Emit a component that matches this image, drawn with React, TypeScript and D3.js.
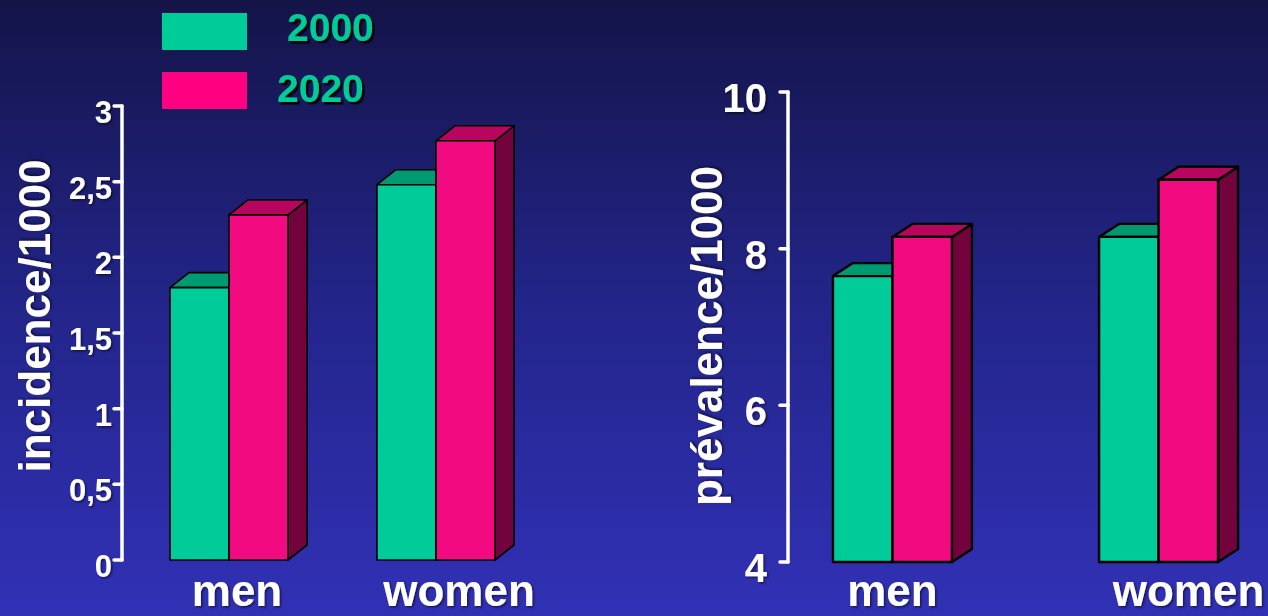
import React from "react";
import * as d3 from "d3";

// Categories and series
const categories = ["men", "women"];
const years = ["2000", "2020"];

// Incidence per 1000
const incidence2000 = [1.8, 2.48];
const incidence2020 = [2.28, 2.77];
const incidenceTicks = [0, 0.5, 1, 1.5, 2, 2.5, 3];

// Prevalence per 1000
const prevalence2000 = [7.65, 8.15];
const prevalence2020 = [8.15, 8.88];
const prevalenceTicks = [4, 6, 8, 10];

const W = 1268;
const H = 616;
const FONT = "'Liberation Sans', Arial, Helvetica, sans-serif";

const frLocale = d3.formatLocale({ decimal: ",", thousands: " ", grouping: [3], currency: ["", " €"] });
const fmtTick = frLocale.format("~g");

const seriesColors = [
  { front: "#00cc99", top: "#009a72", side: "#00704f", legend: "#00cc99" },
  { front: "#f20a80", top: "#b8065f", side: "#72033c", legend: "#ff0080" },
];
const legendTextColor = "#00cc99";

type Panel = {
  title: string;
  s2000: number[];
  s2020: number[];
  ticks: number[];
  domain: [number, number];
  axisX: number;
  yTop: number;
  yBottom: number;
  bandRange: [number, number];
  paddingInner: number;
  paddingOuter: number;
  depth: [number, number];
  stroke: number;
  tickFont: number;
  tickGap: number;
  tickDy: number;
  titleX: number;
  titleY: number;
  labelNudge: number[];
};

const panels: Panel[] = [
  {
    title: "incidence/1000",
    s2000: incidence2000,
    s2020: incidence2020,
    ticks: incidenceTicks,
    domain: [0, 3],
    axisX: 122,
    yTop: 106,
    yBottom: 560,
    bandRange: [122, 543],
    paddingInner: 0.43,
    paddingOuter: 0.232,
    depth: [19, 15],
    stroke: 1.6,
    tickFont: 31,
    tickGap: 10,
    tickDy: 17,
    titleX: 50,
    titleY: 316,
    labelNudge: [8, 23],
  },
  {
    title: "prévalence/1000",
    s2000: prevalence2000,
    s2020: prevalence2020,
    ticks: prevalenceTicks,
    domain: [4, 10],
    axisX: 788,
    yTop: 92,
    yBottom: 562,
    bandRange: [788, 1263],
    paddingInner: 0.553,
    paddingOuter: 0.169,
    depth: [20, 13],
    stroke: 2.4,
    tickFont: 40,
    tickGap: 21,
    tickDy: 20,
    titleX: 722,
    titleY: 336,
    labelNudge: [0, 30],
  },
];

function Bar3D({ x, w, yTopPx, base, dx, dy, c, sw }: any) {
  const front = `M${x},${yTopPx}H${x + w}V${base}H${x}Z`;
  const top = `M${x},${yTopPx}L${x + dx},${yTopPx - dy}H${x + w + dx}L${x + w},${yTopPx}Z`;
  const side = `M${x + w},${yTopPx}L${x + w + dx},${yTopPx - dy}V${base - dy}L${x + w},${base}Z`;
  return (
    <g stroke="#000" strokeWidth={sw} strokeLinejoin="round">
      <path d={side} fill={c.side} />
      <path d={top} fill={c.top} />
      <path d={front} fill={c.front} />
    </g>
  );
}

function PanelChart({ p }: { p: Panel }) {
  const y = d3.scaleLinear().domain(p.domain).range([p.yBottom, p.yTop]);
  const x0 = d3
    .scaleBand<string>()
    .domain(categories)
    .range(p.bandRange)
    .paddingInner(p.paddingInner)
    .paddingOuter(p.paddingOuter);
  const x1 = d3.scaleBand<string>().domain(years).range([0, x0.bandwidth()]);
  const [dx, dy] = p.depth;
  const series = [p.s2000, p.s2020];

  return (
    <g>
      {/* axis */}
      <g stroke="#fff" strokeWidth={3.5} fill="none" strokeLinecap="round" strokeLinejoin="round">
        <line x1={p.axisX} x2={p.axisX} y1={y(p.domain[1])} y2={y(p.domain[0])} />
        {p.ticks.map((t) => (
          <line key={t} x1={p.axisX - 8} x2={p.axisX} y1={y(t)} y2={y(t)} />
        ))}
      </g>
      <g fill="#fff" fontFamily={FONT} fontWeight="bold" fontSize={p.tickFont} textAnchor="end" filter="url(#soft)">
        {p.ticks.map((t) => (
          <text key={t} x={p.axisX - p.tickGap} y={y(t) + p.tickDy}>
            {fmtTick(t)}
          </text>
        ))}
      </g>
      <text
        transform={`translate(${p.titleX},${p.titleY}) rotate(-90)`}
        textAnchor="middle"
        fill="#fff"
        fontFamily={FONT}
        fontWeight="bold"
        fontSize={44}
        filter="url(#soft)"
      >
        {p.title}
      </text>

      {/* bars */}
      {categories.map((cat, ci) => (
        <g key={cat}>
          {years.map((yr, si) => {
            const v = series[si][ci];
            return (
              <Bar3D
                key={yr}
                x={(x0(cat) as number) + (x1(yr) as number)}
                w={x1.bandwidth()}
                yTopPx={y(v)}
                base={y(p.domain[0])}
                dx={dx}
                dy={dy}
                c={seriesColors[si]}
                sw={p.stroke}
              />
            );
          })}
          <text
            x={(x0(cat) as number) + x0.bandwidth() / 2 + p.labelNudge[ci]}
            y={606}
            textAnchor="middle"
            fill="#fff"
            fontFamily={FONT}
            fontWeight="bold"
            fontSize={44}
            filter="url(#soft)"
          >
            {cat}
          </text>
        </g>
      ))}
    </g>
  );
}

export default function App() {
  const legendTextX = [287, 277];
  const legendBaseline = [41, 102];
  return (
    <svg
      width={W}
      height={H}
      viewBox={`0 0 ${W} ${H}`}
      style={{ position: "absolute", left: 0, top: 0, display: "block" }}
    >
      <defs>
        <linearGradient id="bg" x1="0" y1="0" x2="0" y2="1">
          <stop offset="0" stopColor="#141448" />
          <stop offset="0.5" stopColor="#23258a" />
          <stop offset="1" stopColor="#3131b6" />
        </linearGradient>
        <filter id="shadow" x="-10%" y="-10%" width="130%" height="140%">
          <feDropShadow dx="2.5" dy="2.5" stdDeviation="0.6" floodColor="#000" floodOpacity="0.9" />
        </filter>
        <filter id="soft" x="-10%" y="-10%" width="130%" height="130%">
          <feDropShadow dx="1.5" dy="1.5" stdDeviation="0.8" floodColor="#000" floodOpacity="0.55" />
        </filter>
      </defs>
      <rect width={W} height={H} fill="url(#bg)" />

      {/* legend */}
      {years.map((yr, i) => (
        <g key={yr}>
          <rect x={162} y={13 + i * 59} width={85} height={37} fill={seriesColors[i].legend} />
          <text
            x={legendTextX[i]}
            y={legendBaseline[i]}
            fill={legendTextColor}
            fontFamily={FONT}
            fontWeight="bold"
            fontSize={39}
            filter="url(#shadow)"
          >
            {yr}
          </text>
        </g>
      ))}

      {panels.map((p) => (
        <PanelChart key={p.title} p={p} />
      ))}
    </svg>
  );
}
